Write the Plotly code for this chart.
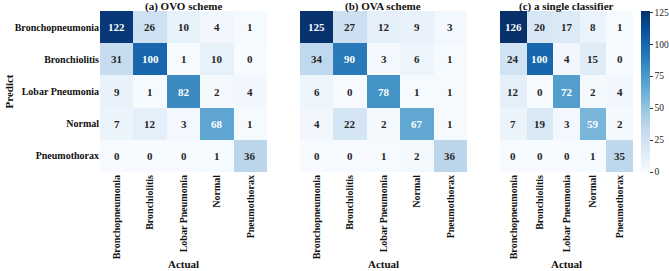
import plotly.graph_objects as go

classes = ["Bronchopneumonia", "Bronchiolitis", "Lobar Pneumonia", "Normal", "Pneumothorax"]
titles = ["(a) OVO scheme", "(b) OVA scheme", "(c) a single classifier"]

ovo = [[122, 26, 10, 4, 1],
       [31, 100, 1, 10, 0],
       [9, 1, 82, 2, 4],
       [7, 12, 3, 68, 1],
       [0, 0, 0, 1, 36]]
ova = [[125, 27, 12, 9, 3],
       [34, 90, 3, 6, 1],
       [6, 0, 78, 1, 1],
       [4, 22, 2, 67, 1],
       [0, 0, 1, 2, 36]]
single = [[126, 20, 17, 8, 1],
          [24, 100, 4, 15, 0],
          [12, 0, 72, 2, 4],
          [7, 19, 3, 59, 2],
          [0, 0, 0, 1, 35]]
matrices = [ovo, ova, single]
cbar_ticks = [0, 25, 50, 75, 100, 125]

W, H = 669, 271
MR = 20
PW = W - MR
FONT = "Liberation Serif"
xdoms = [(100 / PW, 267 / PW), (300 / PW, 467 / PW), (500 / PW, 633 / PW)]
ydom = (1 - 172 / H, 1 - 11 / H)

fig = go.Figure()
annotations = []
for i, (m, t) in enumerate(zip(matrices, titles)):
    sfx = "" if i == 0 else str(i + 1)
    fig.add_trace(go.Heatmap(
        z=m, x=classes, y=classes, xaxis="x" + sfx, yaxis="y" + sfx,
        colorscale="Blues", zmin=0, zmax=126, showscale=(i == 2),
        xgap=0, ygap=0, hoverinfo="skip",
        colorbar=dict(x=641 / PW, xanchor="left", thickness=9, len=ydom[1] - ydom[0],
                      y=(ydom[0] + ydom[1]) / 2, yanchor="middle", lenmode="fraction",
                      tickvals=cbar_ticks, ticks="outside", ticklen=3, tickcolor="#333",
                      tickfont=dict(family=FONT, size=9.5, color="#222"),
                      outlinewidth=0, xpad=0, ypad=0),
    ))
    for r, row in enumerate(m):
        for c, v in enumerate(row):
            annotations.append(dict(
                x=classes[c], y=classes[r], xref="x" + sfx, yref="y" + sfx,
                text="<b>%d</b>" % v, showarrow=False,
                font=dict(family=FONT, size=11, color="white" if v > 50 else "#262626")))
    cx = (xdoms[i][0] + xdoms[i][1]) / 2
    annotations.append(dict(
        x=cx, y=1 - 6 / H, xref="paper", yref="paper", xanchor="center",
        text="<b>%s</b>" % t, showarrow=False, yanchor="middle",
        font=dict(family=FONT, size=11, color="#111")))
    annotations.append(dict(
        x=cx, y=1 - 264 / H, xref="paper", yref="paper", xanchor="center",
        text="<b>Actual</b>", showarrow=False, yanchor="middle",
        font=dict(family=FONT, size=11, color="#111")))
    fig.layout["xaxis" + sfx] = dict(
        domain=xdoms[i], anchor="y" + sfx, tickangle=-90, showgrid=False, zeroline=False,
        ticks="", tickfont=dict(family=FONT, size=10, color="#111"), showline=False,
        tickvals=classes, ticktext=["<b>%s</b>" % c for c in classes], automargin=False)
    fig.layout["yaxis" + sfx] = dict(
        domain=ydom, anchor="x" + sfx, autorange="reversed", showgrid=False, zeroline=False,
        ticks="", showticklabels=(i == 0), tickfont=dict(family=FONT, size=10, color="#111"),
        showline=False, tickvals=classes, ticktext=["<b>%s</b>" % c for c in classes],
        automargin=False)

annotations.append(dict(
    x=8 / PW, y=(ydom[0] + ydom[1]) / 2, xref="paper", yref="paper", text="<b>Predict</b>",
    xanchor="center", showarrow=False, textangle=-90,
    font=dict(family=FONT, size=11, color="#111")))

fig.update_layout(width=W, height=H, margin=dict(l=0, r=MR, t=0, b=0, autoexpand=False),
                  paper_bgcolor="white", plot_bgcolor="white",
                  annotations=annotations, showlegend=False)
fig.write_html("out.html", config={"displayModeBar": False},
               post_script="document.body.style.margin='0';document.body.style.overflow='hidden';")
